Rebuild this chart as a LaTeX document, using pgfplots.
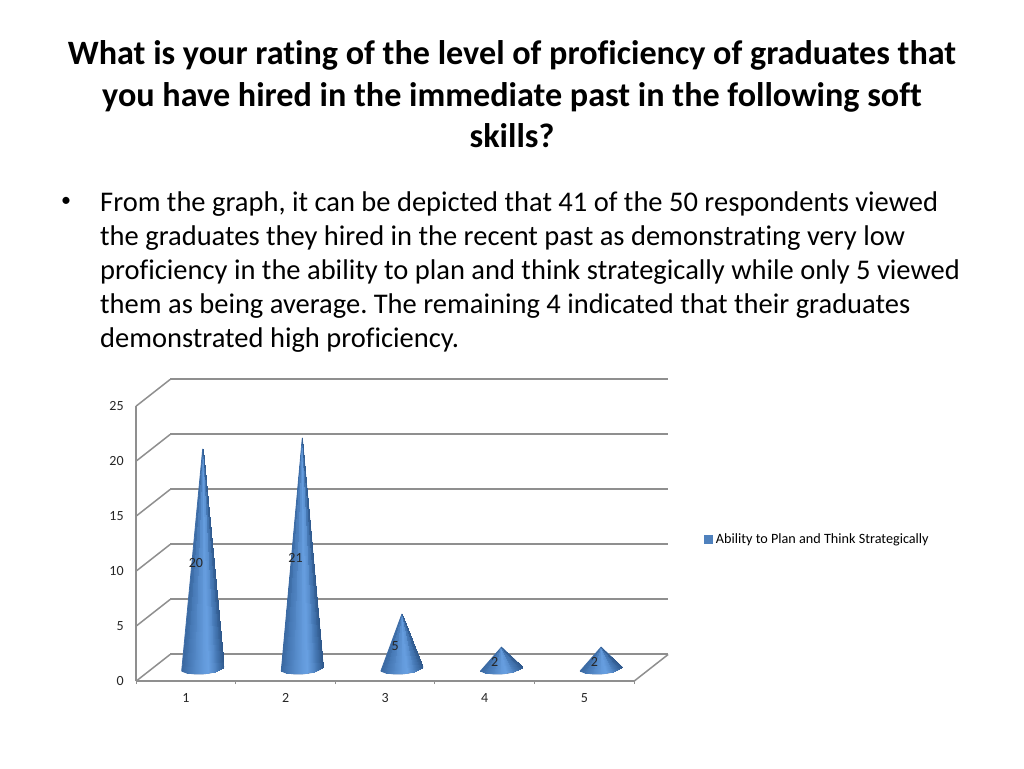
\documentclass[border=0pt]{standalone}
\usepackage{fontspec}
\setmainfont[Ligatures=NoCommon]{Carlito}
\usepackage{pgfplots}
\usepackage{pgfplotstable}
\pgfplotsset{compat=1.18}
\frenchspacing
\definecolor{gridgray}{HTML}{8F8F8F}
\definecolor{legblue}{HTML}{4F81BD}
\definecolor{coneedge}{HTML}{3F6EA8}
% one cone: three rows per triangle (u = offset in x, b = offset of the rim in y, h = 1 at the apex, c = light)
\pgfplotstableread{
u b h c
-0.211 -0.18 0 0.30
-0.161 -0.36 0 0.50
0 0 1 0.40
-0.161 -0.36 0 0.50
-0.080 -0.44 0 0.72
0 0 1 0.61
-0.080 -0.44 0 0.72
0 -0.44 0 0.92
0 0 1 0.82
0 -0.44 0 0.92
0.050 -0.39 0 1.00
0 0 1 0.96
0.050 -0.39 0 1.00
0.120 -0.27 0 0.68
0 0 1 0.84
0.120 -0.27 0 0.68
0.181 -0.02 0 0.28
0 0 1 0.48
0.181 -0.02 0 0.28
0.211 0.18 0 0.05
0 0 1 0.16
}\coneshape
\pgfplotstableread{
u b h
-0.211 -0.18 0
0 0 1
0.211 0.18 0
0.181 -0.02 0
0.120 -0.27 0
0.050 -0.39 0
0 -0.44 0
-0.080 -0.44 0
-0.161 -0.36 0
-0.211 -0.18 0
}\coneoutline
\newcommand{\cone}[2]{\addplot[forget plot,fill=coneedge,draw=coneedge,line width=0.8pt,line join=round]
  table[x expr=#1+0.168+\thisrow{u},y expr=1.09+\thisrow{b}+\thisrow{h}*#2]{\coneoutline};
  \addplot[patch,shader=interp,point meta=explicit,forget plot]
  table[x expr=#1+0.168+\thisrow{u},y expr=1.09+\thisrow{b}+\thisrow{h}*#2,meta=c]{\coneshape};}
\begin{document}
\begin{tikzpicture}[x=1pt,y=1pt]
\path[fill=white] (0,0) rectangle (1024,768);
\node[align=center,anchor=north,font=\fontsize{34.15}{41.5}\selectfont\bfseries,inner sep=0pt] at (512,727.5)
 {What is your rating of the level of proficiency of graduates that\\
  you have hired in the immediate past in the following soft\\
  skills?};
\node[anchor=center,inner sep=0pt,font=\fontsize{20}{24}\selectfont] at (66,566) {•};
\node[align=left,anchor=north west,font=\fontsize{28.5}{34}\selectfont,inner sep=0pt] at (100,576)
 {From the graph, it can be depicted that 41 of the 50 respondents viewed\\
  the graduates they hired in the recent past as demonstrating very low\\
  proficiency in the ability to plan and think strategically while only 5 viewed\\
  them as being average. The remaining 4 indicated that their graduates\\
  demonstrated high proficiency.};
\begin{axis}[at={(136.7,79)},anchor=south west,
  scale only axis,width=498pt,height=275pt,
  xmin=0.5,xmax=5.5,ymin=0,ymax=25,clip=false,
  axis x line=bottom,axis y line=left,
  axis line style={-,draw=gridgray,line width=1.6pt},
  xtick={1,2,3,4,5},ytick={0,5,10,15,20,25},
  minor xtick={0.5,1.5,2.5,3.5,4.5,5.5},
  major tick length=0pt,
  minor tick length=3pt,
  tick align=outside,
  every tick/.style={draw=gridgray,line width=1pt},
  every minor tick/.style={draw=gridgray,line width=1pt},
  tick label style={font=\fontsize{14}{16}\selectfont,text=black!85},
  /pgf/number format/assume math mode=true,
  yticklabel style={xshift=-9pt},
  xticklabel style={yshift=-9pt},
  colormap={conecol}{rgb255=(44,84,134) rgb255=(68,118,178) rgb255=(104,160,226)},
  point meta min=0,point meta max=1,
  unbounded coords=jump,
  legend style={at={(1.1405,0.516)},anchor=west,draw=none,fill=none,inner sep=0pt,
     font=\fontsize{14.2}{16}\selectfont,legend cell align=left,
     /tikz/every even column/.style={column sep=2pt}},
]
% back-wall gridlines and floor
\addplot[forget plot,draw=gridgray,line width=2pt] coordinates {
 (0.841,2.42)(5.841,2.42)(nan,nan)
 (0.841,7.42)(5.841,7.42)(nan,nan)
 (0.841,12.42)(5.841,12.42)(nan,nan)
 (0.841,17.42)(5.841,17.42)(nan,nan)
 (0.841,22.42)(5.841,22.42)(nan,nan)
 (0.841,27.42)(5.841,27.42)};
\addplot[forget plot,draw=gridgray,line width=1.5pt] coordinates {
 (0.5,0)(0.841,2.42)(nan,nan)
 (0.5,5)(0.841,7.42)(nan,nan)
 (0.5,10)(0.841,12.42)(nan,nan)
 (0.5,15)(0.841,17.42)(nan,nan)
 (0.5,20)(0.841,22.42)(nan,nan)
 (0.5,25)(0.841,27.42)(nan,nan)
 (5.5,0)(5.841,2.42)};
\cone{1}{20}
\cone{2}{21}
\cone{3}{5}
\cone{4}{2}
\cone{5}{2}
\addplot[forget plot,draw=none,mark=none,point meta=explicit symbolic,
  nodes near coords,
  every node near coord/.style={anchor=center,inner sep=0pt,font=\fontsize{14}{16}\selectfont,text=black!85}]
  coordinates {(1.1,10.7)[20] (2.1,11.2)[21] (3.1,3.2)[5] (4.1,1.7)[2] (5.1,1.7)[2]};
\addlegendimage{only marks,mark=square*,mark size=3.8pt,color=legblue}
\addlegendentry{\hspace{2pt}Ability to Plan and Think Strategically}
\end{axis}
\end{tikzpicture}
\end{document}
